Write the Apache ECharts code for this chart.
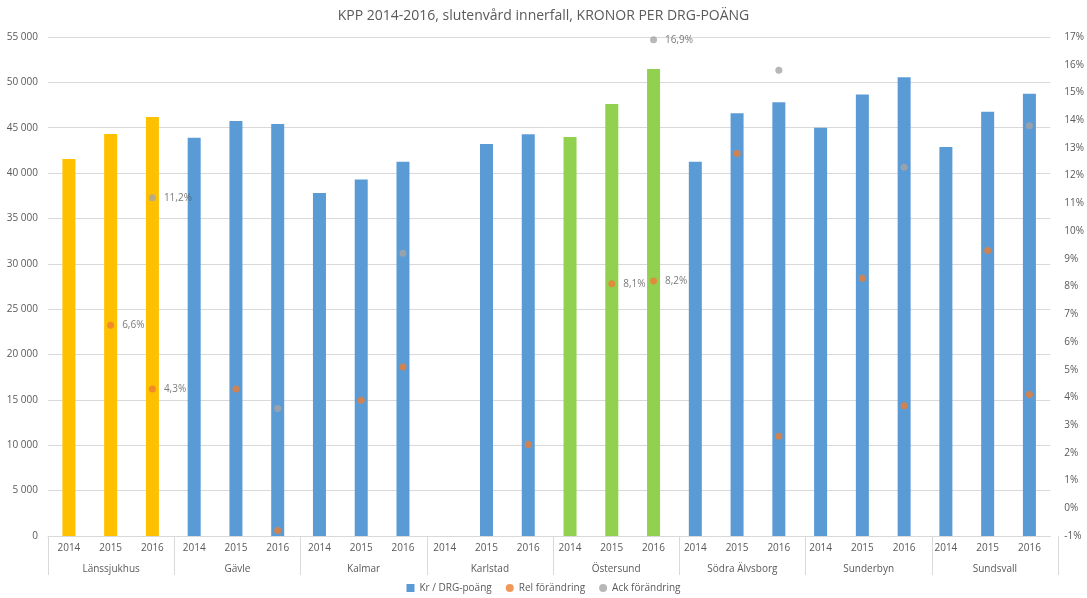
<!DOCTYPE html>
<html>
<head>
<meta charset="utf-8">
<script src="https://cdn.jsdelivr.net/npm/echarts@6/dist/echarts.min.js"></script>
<style>
  html, body { margin: 0; padding: 0; background: #fff; }
  #chart { width: 1087px; height: 598px; }
</style>
</head>
<body>
<div id="chart"></div>
<script>
// data
const groups = ['Länssjukhus', 'Gävle', 'Kalmar', 'Karlstad', 'Östersund', 'Södra Älvsborg', 'Sunderbyn', 'Sundsvall']
const years = ['2014', '2015', '2016']
const krPerDrg = [
  41550, 44300, 46180,
  43900, 45740, 45410,
  37800, 39280, 41260,
  null, 43210, 44280,
  43980, 47620, 51470,
  41260, 46590, 47800,
  45010, 48650, 50560,
  42880, 46770, 48750
]
const relChange = [
  null, 6.6, 4.3,
  null, 4.3, -0.8,
  null, 3.9, 5.1,
  null, null, 2.3,
  null, 8.1, 8.2,
  null, 12.8, 2.6,
  null, 8.3, 3.7,
  null, 9.3, 4.1
]
const ackChange = [
  null, null, 11.2,
  null, null, 3.6,
  null, null, 9.2,
  null, null, null,
  null, null, 16.9,
  null, null, 15.8,
  null, null, 12.3,
  null, null, 13.8
]
const leftTicks = { min: 0, max: 55000, interval: 5000 }
const rightTicks = { min: -1, max: 17, interval: 1 }

// styling
const groupColors = { 'Länssjukhus': '#FFC000', 'Östersund': '#92D050' }
const labelledGroups = ['Länssjukhus', 'Östersund']
const BLUE = '#5B9BD5'
const ORANGE = '#ED7D31'
const GREY = '#A5A5A5'
const TXT = '#595959'
const LINE = '#D9D9D9'
const FONT = 'Open Sans'

const categories = []
const catGroup = []
groups.forEach(g => years.forEach(y => { categories.push(y); catGroup.push(g) }))

const pct = v => v.toFixed(1).replace('.', ',') + '%'
const thousands = v => String(v).replace(/\B(?=(\d{3})+(?!\d))/g, ' ')

const barData = krPerDrg.map((v, i) => ({
  value: v,
  itemStyle: { color: groupColors[catGroup[i]] || BLUE }
}))

const pointData = arr => arr.map((v, i) => ({
  value: v,
  label: { show: v !== null && labelledGroups.includes(catGroup[i]) }
}))

const pointLabel = {
  position: 'right',
  distance: 8,
  color: TXT,
  fontSize: 10,
  fontFamily: FONT,
  formatter: p => pct(p.value)
}

const option = {
  animation: false,
  textStyle: { fontFamily: FONT },
  title: {
    text: 'KPP 2014-2016, slutenvård innerfall, KRONOR PER DRG-POÄNG',
    left: 'center',
    top: 4,
    textStyle: { color: TXT, fontSize: 14, fontWeight: 'normal', fontFamily: FONT }
  },
  grid: [
    { left: 48, right: 29, top: 37, bottom: 62 }, // plot
    { left: 48, right: 29, top: 536, bottom: 23 } // group band under the years
  ],
  legend: {
    bottom: 0,
    left: 'center',
    itemWidth: 8,
    itemHeight: 8,
    itemGap: 14,
    textStyle: { color: TXT, fontSize: 10, fontFamily: FONT },
    data: [
      { name: 'Kr / DRG-poäng', icon: 'rect' },
      { name: 'Rel förändring', icon: 'circle' },
      { name: 'Ack förändring', icon: 'circle' }
    ]
  },
  xAxis: [
    {
      type: 'category',
      gridIndex: 0,
      data: categories,
      position: 'bottom',
      axisLine: { show: true, lineStyle: { color: LINE } },
      axisTick: { show: false },
      axisLabel: { color: TXT, fontSize: 10, margin: 7, interval: 0 }
    },
    {
      type: 'category',
      gridIndex: 1,
      data: groups,
      position: 'bottom',
      axisLine: { show: false },
      axisTick: { show: false },
      splitLine: { show: true, interval: 0, lineStyle: { color: LINE } },
      axisLabel: { color: TXT, fontSize: 10, inside: true, margin: 1, interval: 0 }
    }
  ],
  yAxis: [
    {
      type: 'value',
      gridIndex: 0,
      min: leftTicks.min,
      max: leftTicks.max,
      interval: leftTicks.interval,
      axisLine: { show: false },
      axisTick: { show: false },
      splitLine: { lineStyle: { color: LINE } },
      axisLabel: { color: TXT, fontSize: 10, margin: 10, formatter: v => thousands(v) }
    },
    {
      type: 'value',
      gridIndex: 0,
      position: 'right',
      min: rightTicks.min,
      max: rightTicks.max,
      interval: rightTicks.interval,
      axisLine: { show: false },
      axisTick: { show: false },
      splitLine: { show: false },
      axisLabel: { color: TXT, fontSize: 10, margin: 14, formatter: v => v + '%' }
    },
    {
      type: 'value',
      gridIndex: 1,
      show: false
    }
  ],
  series: [
    {
      name: 'Kr / DRG-poäng',
      type: 'bar',
      xAxisIndex: 0,
      yAxisIndex: 0,
      barWidth: 13,
      itemStyle: { color: BLUE },
      data: barData
    },
    {
      name: 'Rel förändring',
      type: 'scatter',
      xAxisIndex: 0,
      yAxisIndex: 1,
      symbolSize: 7,
      itemStyle: { color: ORANGE },
      label: pointLabel,
      data: pointData(relChange)
    },
    {
      name: 'Ack förändring',
      type: 'scatter',
      xAxisIndex: 0,
      yAxisIndex: 1,
      symbolSize: 7,
      itemStyle: { color: GREY },
      label: pointLabel,
      data: pointData(ackChange)
    }
  ]
}

const myChart = echarts.init(document.getElementById('chart'))
myChart.setOption(option)
</script>
</body>
</html>
